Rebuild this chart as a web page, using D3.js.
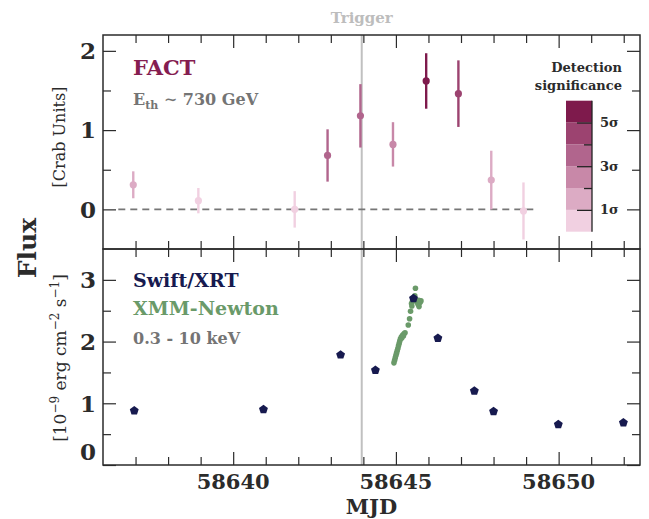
<!DOCTYPE html>
<html>
<head>
<meta charset="utf-8">
<script src="https://cdn.jsdelivr.net/npm/d3@7"></script>
<style>
    body { margin: 0; background: #fff; }
    svg { display: block; font-family: "DejaVu Serif", serif; }
</style>
</head>
<body>
<svg id="chart" width="649" height="519"></svg>
<script>
// ---- data ----
// FACT nightly fluxes (Crab units) with detection significance (sigma)
const factMjd = [58636.93, 58638.93, 58641.89, 58642.90, 58643.91, 58644.91, 58645.93, 58646.92, 58647.93, 58648.92];
const factFlux = [0.31, 0.11, 0.00, 0.68, 1.18, 0.82, 1.62, 1.46, 0.37, -0.02];
const factErr = [0.17, 0.16, 0.23, 0.33, 0.40, 0.28, 0.35, 0.42, 0.37, 0.36];
const factSig = [1.5, 0.6, 0.0, 3.2, 3.6, 2.8, 5.4, 4.6, 1.4, 0.1];

// Swift/XRT fluxes (1e-9 erg cm^-2 s^-1)
const swiftMjd = [58636.96, 58640.93, 58643.30, 58644.37, 58645.54, 58646.29, 58647.41, 58648.00, 58649.99, 58651.99];
const swiftFlux = [0.88, 0.90, 1.785, 1.535, 2.70, 2.056, 1.20, 0.868, 0.656, 0.684];

// XMM-Newton light curve
const xmmMjd = [58644.94, 58644.96, 58644.98, 58645.00, 58645.02, 58645.04, 58645.06, 58645.08, 58645.10, 58645.12,
    58645.14, 58645.17, 58645.21, 58645.25, 58645.28, 58645.18, 58645.23, 58645.38, 58645.42, 58645.45,
    58645.48, 58645.51, 58645.55, 58645.58, 58645.60, 58645.65, 58645.68, 58645.71, 58645.74, 58645.77,
    58645.70, 58645.49];
const xmmFlux = [1.655, 1.698, 1.736, 1.774, 1.812, 1.850, 1.888, 1.932, 1.970, 2.008,
    2.046, 2.078, 2.105, 2.127, 2.143, 2.057, 2.089, 2.268, 2.371, 2.491,
    2.615, 2.653, 2.713, 2.740, 2.865, 2.643, 2.605, 2.567, 2.632, 2.659,
    2.670, 2.577];

const triggerMjd = 58643.95;
const zeroLine = [58636.47, 58649.26];

// colorbar bins (0..6 sigma) and its labels
const sigColors = ["#f1d0e1", "#dcabc4", "#c888a8", "#b1658d", "#9c4370", "#7e1a4c"];
const sigTicks = [1, 3, 5];
const sigMinor = [2, 4];

// ticks
const xMajor = [58640, 58645, 58650];
const xMinor = d3.range(58637, 58653).filter(d => !xMajor.includes(d));
const topMajor = [0, 1, 2];
const topMinor = [0.5, 1.5];
const botMajor = [0, 1, 2, 3];
const botMinor = [0.5, 1.5, 2.5];

// ---- layout ----
const svg = d3.select("#chart");
const left = 103, right = 640;
const topY0 = 35, split = 249, botY1 = 465;
const ink = "#2b2b2b";

const x = d3.scaleLinear().domain([58636, 58652.5]).range([left, right]);
const yTop = d3.scaleLinear().domain([-0.5, 2.2]).range([split, topY0]);
const yBot = d3.scaleLinear().domain([0, 3.5]).range([botY1, split]);
const sigScale = d3.scaleLinear().domain([0, 6]).range([231.7, 100.7]);
const sigColor = d3.scaleThreshold().domain([1, 2, 3, 4, 5]).range(sigColors);

// inward ticks on every side of one panel
function drawTicks(y, y0, y1, yMaj, yMin) {
    const g = svg.append("g");
    const sides = [
        [d3.axisBottom(x), `translate(0,${y0})`, xMajor, xMinor],
        [d3.axisTop(x), `translate(0,${y1})`, xMajor, xMinor],
        [d3.axisLeft(y), `translate(${left},0)`, yMaj, yMin],
        [d3.axisRight(y), `translate(${right},0)`, yMaj, yMin]
    ];
    sides.forEach(([axis, tr, maj, min]) => {
        g.append("g").attr("transform", tr)
            .call(axis.tickValues(maj).tickSize(-13).tickFormat(""));
        g.append("g").attr("transform", tr)
            .call(axis.tickValues(min).tickSize(-8).tickFormat(""));
    });
    g.selectAll(".domain").remove();
    g.selectAll(".tick line").attr("stroke", ink).attr("stroke-width", 1.2);
}

drawTicks(yTop, split, topY0, topMajor, topMinor);
drawTicks(yBot, botY1, split, botMajor, botMinor);

// tick labels
svg.append("g").selectAll("text")
    .data(xMajor).join("text")
    .attr("x", d => x(d)).attr("y", 489)
    .attr("text-anchor", "middle")
    .attr("font-size", 21).attr("font-weight", "bold").attr("fill", ink)
    .text(d => d);

svg.append("g").selectAll("text")
    .data(topMajor).join("text")
    .attr("x", 96).attr("y", d => yTop(d)).attr("dy", "0.36em")
    .attr("text-anchor", "end")
    .attr("font-size", 23).attr("font-weight", "bold").attr("fill", ink)
    .text(d => d);

svg.append("g").selectAll("text")
    .data(botMajor).join("text")
    .attr("x", 96).attr("y", d => d === 0 ? yBot(d) - 13 : yBot(d)).attr("dy", "0.36em")
    .attr("text-anchor", "end")
    .attr("font-size", 23).attr("font-weight", "bold").attr("fill", ink)
    .text(d => d);

// trigger line across both panels
svg.append("line")
    .attr("x1", x(triggerMjd)).attr("x2", x(triggerMjd))
    .attr("y1", topY0).attr("y2", botY1)
    .attr("stroke", "#c0c0c0").attr("stroke-width", 2);

svg.append("text")
    .attr("x", x(triggerMjd)).attr("y", 23)
    .attr("text-anchor", "middle")
    .attr("font-size", 15).attr("font-weight", "bold").attr("fill", "#bdbdbd")
    .text("Trigger");

// zero reference in the FACT panel
svg.append("line")
    .attr("x1", x(zeroLine[0])).attr("x2", x(zeroLine[1]))
    .attr("y1", yTop(0)).attr("y2", yTop(0))
    .attr("stroke", "#767676").attr("stroke-width", 1.8)
    .attr("stroke-dasharray", "7,5");

// FACT points with error bars
const fact = factMjd.map((d, i) => ({ mjd: d, flux: factFlux[i], err: factErr[i], sig: factSig[i] }));

const factG = svg.append("g").selectAll("g").data(fact).join("g");
factG.append("line")
    .attr("x1", d => x(d.mjd)).attr("x2", d => x(d.mjd))
    .attr("y1", d => yTop(d.flux - d.err)).attr("y2", d => yTop(d.flux + d.err))
    .attr("stroke", d => sigColor(d.sig)).attr("stroke-width", 2.4);
factG.append("circle")
    .attr("cx", d => x(d.mjd)).attr("cy", d => yTop(d.flux))
    .attr("r", 3.6)
    .attr("fill", d => sigColor(d.sig));

// X-ray points
const xmmColor = "#6a9a69";
const swiftColor = "#171a4f";

svg.append("g").selectAll("circle")
    .data(xmmMjd.map((d, i) => [d, xmmFlux[i]])).join("circle")
    .attr("cx", d => x(d[0])).attr("cy", d => yBot(d[1]))
    .attr("r", 2.8).attr("fill", xmmColor);

// pentagon marker like the matplotlib "p"
const pentagon = {
    draw(ctx, size) {
        const r = Math.sqrt(size / 2.378);
        for (let i = 0; i < 5; i++) {
            const a = -Math.PI / 2 + i * 2 * Math.PI / 5;
            if (i === 0) ctx.moveTo(r * Math.cos(a), r * Math.sin(a));
            else ctx.lineTo(r * Math.cos(a), r * Math.sin(a));
        }
        ctx.closePath();
    }
};

svg.append("g").selectAll("path")
    .data(swiftMjd.map((d, i) => [d, swiftFlux[i]])).join("path")
    .attr("transform", d => `translate(${x(d[0])},${yBot(d[1])})`)
    .attr("d", d3.symbol(pentagon, 52))
    .attr("fill", swiftColor);

// panel frames
[[topY0, split], [split, botY1]].forEach(([a, b]) => {
    svg.append("rect")
        .attr("x", left).attr("y", a)
        .attr("width", right - left).attr("height", b - a)
        .attr("fill", "none").attr("stroke", ink).attr("stroke-width", 1.5);
});

// colorbar for the detection significance
const cbX = 566, cbW = 26;
svg.append("g").selectAll("rect")
    .data(sigColors).join("rect")
    .attr("x", cbX).attr("width", cbW)
    .attr("y", (d, i) => sigScale(i + 1))
    .attr("height", (d, i) => sigScale(i) - sigScale(i + 1))
    .attr("fill", d => d);

const cbAxis = svg.append("g").attr("transform", `translate(${cbX + cbW},0)`);
cbAxis.append("g").call(d3.axisRight(sigScale).tickValues(sigTicks).tickSize(-15).tickFormat(""));
cbAxis.append("g").call(d3.axisRight(sigScale).tickValues(sigMinor).tickSize(-8).tickFormat(""));
cbAxis.selectAll(".domain").remove();
cbAxis.selectAll(".tick line").attr("stroke", "#222").attr("stroke-width", 1.3);

svg.append("line")
    .attr("x1", cbX + cbW).attr("x2", cbX + cbW)
    .attr("y1", sigScale(0)).attr("y2", sigScale(6))
    .attr("stroke", "#222").attr("stroke-width", 1.3);

svg.append("g").selectAll("text")
    .data(sigTicks).join("text")
    .attr("x", cbX + cbW + 8).attr("y", d => sigScale(d)).attr("dy", "0.35em")
    .attr("font-size", 13).attr("font-weight", "bold").attr("fill", ink)
    .text(d => `${d}σ`);

svg.append("text")
    .attr("x", 622).attr("y", 72)
    .attr("text-anchor", "end")
    .attr("font-size", 13).attr("font-weight", "bold").attr("fill", ink)
    .text("Detection");
svg.append("text")
    .attr("x", 622).attr("y", 90)
    .attr("text-anchor", "end")
    .attr("font-size", 13).attr("font-weight", "bold").attr("fill", ink)
    .text("significance");

// in-panel labels
svg.append("text")
    .attr("x", 133).attr("y", 75)
    .attr("font-size", 21).attr("font-weight", "bold").attr("fill", "#851d50")
    .text("FACT");

const eth = svg.append("text")
    .attr("x", 133).attr("y", 105)
    .attr("font-size", 16).attr("font-weight", "bold").attr("fill", "#747474");
eth.append("tspan").text("E");
eth.append("tspan").attr("font-size", 11).attr("dy", 4).text("th");
eth.append("tspan").attr("dy", -4).text(" ∼ 730 GeV");

svg.append("text")
    .attr("x", 133).attr("y", 287)
    .attr("font-size", 19).attr("font-weight", "bold").attr("fill", swiftColor)
    .text("Swift/XRT");
svg.append("text")
    .attr("x", 133).attr("y", 315)
    .attr("font-size", 19).attr("font-weight", "bold").attr("fill", xmmColor)
    .text("XMM-Newton");
svg.append("text")
    .attr("x", 133).attr("y", 344)
    .attr("font-size", 16).attr("font-weight", "bold").attr("fill", "#747474")
    .text("0.3 - 10 keV");

// axis titles
svg.append("text")
    .attr("x", (left + right) / 2).attr("y", 514)
    .attr("text-anchor", "middle")
    .attr("font-size", 21).attr("font-weight", "bold").attr("fill", ink)
    .text("MJD");

svg.append("text")
    .attr("transform", "translate(36,248) rotate(-90)")
    .attr("text-anchor", "middle")
    .attr("font-size", 25).attr("font-weight", "bold").attr("fill", ink)
    .text("Flux");

svg.append("text")
    .attr("transform", "translate(65,137) rotate(-90)")
    .attr("text-anchor", "middle")
    .attr("font-size", 16).attr("fill", ink)
    .text("[Crab Units]");

const unit = svg.append("text")
    .attr("transform", "translate(66,358) rotate(-90)")
    .attr("text-anchor", "middle")
    .attr("font-size", 17).attr("fill", ink);
unit.append("tspan").text("[10");
unit.append("tspan").attr("font-size", 12).attr("dy", -7).text("−9");
unit.append("tspan").attr("dy", 7).text(" erg cm");
unit.append("tspan").attr("font-size", 12).attr("dy", -7).text("−2");
unit.append("tspan").attr("dy", 7).text(" s");
unit.append("tspan").attr("font-size", 12).attr("dy", -7).text("−1");
unit.append("tspan").attr("dy", 7).text("]");
</script>
</body>
</html>
